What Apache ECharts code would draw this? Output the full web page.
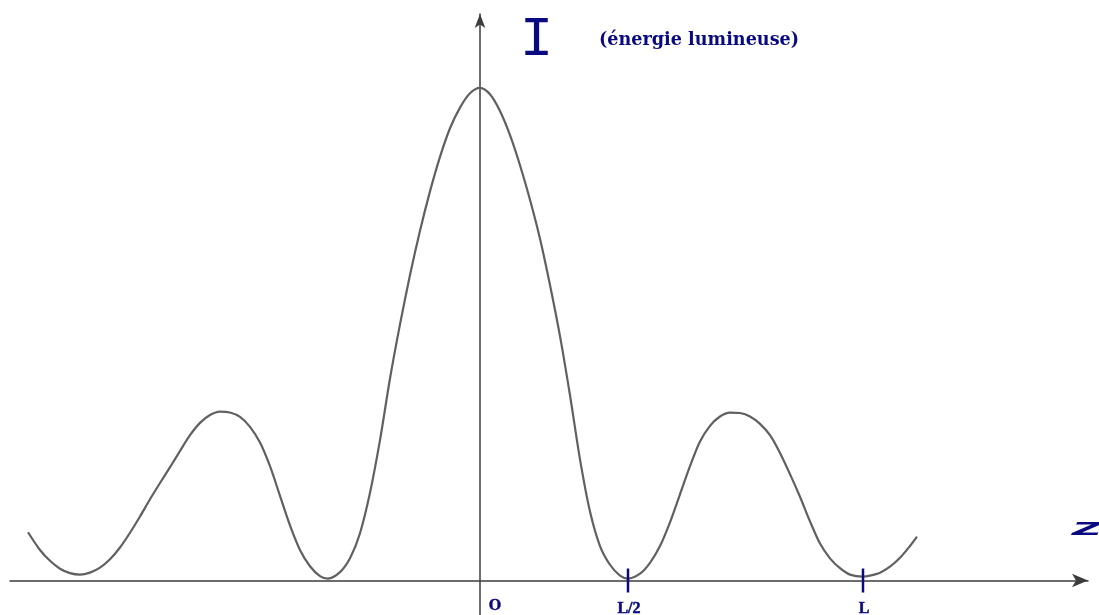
<!DOCTYPE html>
<html>
<head>
<meta charset="utf-8">
<title>Intensité lumineuse</title>
<script src="https://cdn.jsdelivr.net/npm/echarts/dist/echarts.min.js"></script>
<style>
  html, body { margin: 0; padding: 0; background: #ffffff; }
  #chart { width: 1099px; height: 615px; }
</style>
</head>
<body>
<div id="chart"></div>
<script>
// Position along the screen (arbitrary units, origin O at 0)
const zValues = [
  -45.2, -44, -43, -42, -41, -40, -39, -38, -37, -36, -35, -34, -33, -32,
  -31, -30, -29, -28, -27, -26, -25, -24, -23, -22, -21, -20, -19, -18,
  -17, -16, -15.2,
  -14, -13, -12, -11, -10, -9, -8, -7, -6, -5, -4, -3, -2, -1, 0,
  1, 2, 3, 4, 5, 6, 7, 8, 9, 10, 11, 12, 13, 14, 14.8,
  16, 17, 18, 19, 20, 21, 22, 23, 24, 25, 26, 27, 28, 29, 30, 31, 32,
  33, 34, 35, 36, 37, 38.3, 39, 40, 41, 42, 43, 43.7
];

// Light intensity I (central maximum = 100)
const intensity = [
  9.8, 6.2, 4.0, 2.4, 1.5, 1.2, 1.6, 2.6, 4.3, 6.7, 9.7, 13.0, 16.5, 19.8,
  23.0, 26.3, 29.5, 32.0, 33.6, 34.3, 34.1, 33.2, 31.2, 28.0, 23.2, 17.2, 11.2, 6.2,
  2.9, 0.9, 0.4,
  1.7, 4.5, 9.6, 17.8, 28.5, 41.0, 52.0, 62.0, 71.0, 79.0, 86.0, 91.8, 96.0, 98.9, 100,
  98.7, 95.3, 90.4, 84.3, 77.3, 69.4, 60.0, 49.6, 37.6, 24.6, 14.0, 7.0, 3.2, 1.0, 0.4,
  1.4, 3.6, 7.0, 11.8, 17.5, 23.2, 28.2, 31.4, 33.3, 34.1, 34.0, 33.3, 31.8, 29.5, 25.9, 21.6, 17.0,
  12.0, 7.5, 4.5, 2.5, 1.2, 0.8, 1.0, 1.6, 2.8, 4.6, 7.0, 8.9
];

// Marked positions on the z axis
const tickPositions = [0, 14.8, 38.3];
const tickLabels = ['O', 'L/2', 'L'];

const NAVY = '#0a0a80';
const AXIS = '#3c3c3c';

const curve = zValues.map((z, i) => [z, intensity[i]]);

const tickData = tickPositions.map((z, i) => {
  const isOrigin = tickLabels[i] === 'O';
  return {
    value: [z, 0],
    name: tickLabels[i],
    symbolSize: isOrigin ? 0 : [2.5, 24],
    label: { offset: isOrigin ? [15, 25] : [1, 28] }
  };
});

const chart = echarts.init(document.getElementById('chart'), null, { renderer: 'canvas' });

chart.setOption({
  animation: false,
  backgroundColor: '#ffffff',
  grid: { left: 10, right: 11, top: 14, bottom: 0, containLabel: false },
  xAxis: {
    type: 'value',
    min: -47,
    max: 60.8,
    axisLine: {
      show: true,
      onZero: true,
      symbol: ['none', 'arrow'],
      symbolSize: [10, 16],
      lineStyle: { color: AXIS, width: 1.5 }
    },
    axisTick: { show: false },
    axisLabel: { show: false },
    splitLine: { show: false }
  },
  yAxis: {
    type: 'value',
    min: -7,
    max: 115,
    axisLine: {
      show: true,
      onZero: true,
      symbol: ['none', 'arrow'],
      symbolSize: [8, 14],
      lineStyle: { color: AXIS, width: 1.5 }
    },
    axisTick: { show: false },
    axisLabel: { show: false },
    splitLine: { show: false }
  },
  series: [
    {
      name: 'I',
      type: 'line',
      data: curve,
      smooth: 0.3,
      showSymbol: false,
      silent: true,
      lineStyle: { color: '#606060', width: 2.2 },
      z: 3
    },
    {
      name: 'repères',
      type: 'scatter',
      data: tickData,
      symbol: 'rect',
      silent: true,
      itemStyle: { color: NAVY, opacity: 1 },
      label: {
        show: true,
        position: 'inside',
        formatter: p => p.name,
        color: NAVY,
        textBorderColor: NAVY,
        textBorderWidth: 0.5,
        fontFamily: 'Liberation Serif',
        fontWeight: 'bold',
        fontSize: 16
      },
      z: 4
    }
  ],
  graphic: [
    {
      type: 'text',
      x: 536.5,
      y: 40,
      silent: true,
      style: {
        text: 'I',
        fill: NAVY,
        font: '56px "Liberation Mono"',
        align: 'center',
        verticalAlign: 'middle'
      }
    },
    {
      type: 'text',
      x: 599,
      y: 40,
      silent: true,
      style: {
        text: '(énergie lumineuse)',
        fill: NAVY,
        font: 'bold 17.6px "DejaVu Serif"',
        align: 'left',
        verticalAlign: 'middle'
      }
    },
    {
      type: 'text',
      x: 1072,
      y: 530,
      scaleX: 2.3,
      silent: true,
      style: {
        text: 'Z',
        fill: NAVY,
        font: 'italic bold 18px "DejaVu Sans"',
        align: 'left',
        verticalAlign: 'middle'
      }
    }
  ]
});
</script>
</body>
</html>
